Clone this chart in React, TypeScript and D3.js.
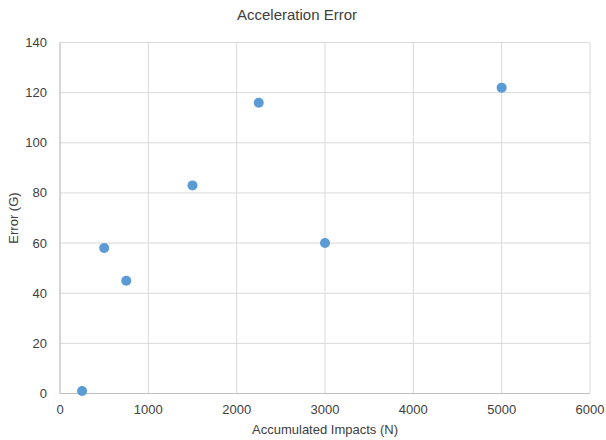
import React from "react";
import * as d3 from "d3";

const impacts = [250, 500, 750, 1500, 2250, 3000, 5000];
const errors = [1, 58, 45, 83, 116, 60, 122];
const xTicks = [0, 1000, 2000, 3000, 4000, 5000, 6000];
const yTicks = [0, 20, 40, 60, 80, 100, 120, 140];

const W = 606;
const H = 440;
const margin = { top: 42.5, right: 16, bottom: 46.5, left: 60 };
const font = "'Liberation Sans', Arial, sans-serif";
const textColor = "#404040";

export default function App() {
  const x = d3.scaleLinear().domain([0, 6000]).range([margin.left, W - margin.right]);
  const y = d3.scaleLinear().domain([0, 140]).range([H - margin.bottom, margin.top]);
  const [x0, x1] = x.range();
  const [y0, y1] = y.range();

  return (
    <svg
      width={W}
      height={H}
      style={{ position: "absolute", left: 0, top: 0, background: "#fff" }}
      fontFamily={font}
    >
      <text x={W / 2 - 6} y={20} textAnchor="middle" fontSize={15} fill={textColor}>
        Acceleration Error
      </text>

      {yTicks.map((t) => (
        <line key={"gy" + t} x1={x0} x2={x1} y1={y(t)} y2={y(t)} stroke="#d9d9d9" strokeWidth={1} />
      ))}
      {xTicks.map((t) => (
        <line key={"gx" + t} x1={x(t)} x2={x(t)} y1={y1} y2={y0} stroke="#d9d9d9" strokeWidth={1} />
      ))}
      <line x1={x0} x2={x1} y1={y(0)} y2={y(0)} stroke="#bfbfbf" strokeWidth={1} />
      <line x1={x0} x2={x0} y1={y1} y2={y0} stroke="#bfbfbf" strokeWidth={1} />

      {yTicks.map((t) => (
        <text key={"ty" + t} x={x0 - 13} y={y(t)} dy="0.35em" textAnchor="end" fontSize={13} fill={textColor}>
          {t}
        </text>
      ))}
      {xTicks.map((t) => (
        <text key={"tx" + t} x={x(t)} y={y0 + 20} textAnchor="middle" fontSize={13} fill={textColor}>
          {t}
        </text>
      ))}

      <text x={(x0 + x1) / 2} y={H - 6} textAnchor="middle" fontSize={13} fill={textColor}>
        Accumulated Impacts (N)
      </text>
      <text
        transform={`translate(18, ${(y0 + y1) / 2}) rotate(-90)`}
        textAnchor="middle"
        fontSize={13}
        fill={textColor}
      >
        Error (G)
      </text>

      {impacts.map((v, i) => (
        <circle key={"p" + i} cx={x(v)} cy={y(errors[i])} r={5} fill="#5b9bd5" />
      ))}
    </svg>
  );
}
